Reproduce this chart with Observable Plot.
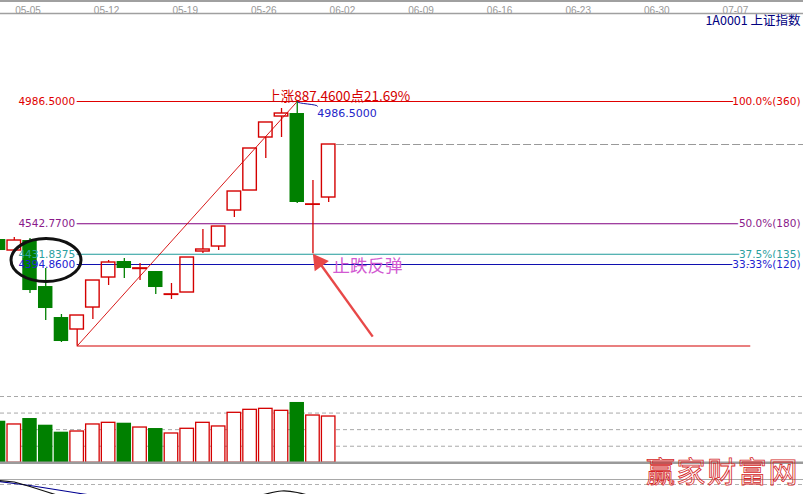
<!DOCTYPE html>
<html><head><meta charset="utf-8">
<script src="https://cdn.jsdelivr.net/npm/d3@7"></script>
<script src="https://cdn.jsdelivr.net/npm/@observablehq/plot@0.6"></script>
<style>
html,body{margin:0;padding:0;background:#fff;}
#chart{position:relative;width:803px;height:494px;overflow:hidden;background:#fff;}
#chart svg{position:absolute;left:0;top:0;background:transparent;overflow:hidden;}
#topline{position:absolute;left:0;top:0;width:803px;height:2px;background:#a0a0a0;}
#wm{position:absolute;left:646px;top:449px;font:29px "Noto Sans CJK SC",sans-serif;letter-spacing:1.6px;color:rgba(255,255,255,0);-webkit-text-stroke:0.8px #d42525;white-space:nowrap;}
</style></head><body>
<div id="chart"><div id="topline"></div></div>
<script>
// ---------- data ----------
const dayIndex = [-2,-1,0,1,2,3,4,5,6,7,8,9,10,11,12,13,14,15,16,17,18,19];
const openP  = [4485.6,4445.6,4481.9,4314.9,4202.4,4158.9,4238.7,4347.6,4405.7,4378.5,4369.4,4284.5,4293.2,4442.0,4460.1,4590.8,4663.4,4855.8,4932.0,4942.9,4611.5,4638.0];
const highP  = [4489.2,4492.8,4489.2,4380.3,4213.3,4209.7,4336.7,4409.3,4416.6,4398.4,4369.4,4325.8,4420.2,4521.9,4532.7,4659.8,4815.9,4910.3,4961.1,4986.5,4699.7,4830.4];
const lowP   = [4442.0,4445.6,4289.5,4191.5,4111.7,4099.04,4195.2,4318.6,4344.0,4336.7,4285.9,4267.8,4293.2,4434.7,4445.6,4565.4,4663.4,4779.6,4855.8,4616.2,4434.0,4619.9];
const closeP = [4445.6,4481.9,4300.4,4235.1,4115.3,4209.7,4336.7,4402.1,4380.3,4380.9,4311.3,4286.4,4420.2,4449.3,4532.7,4659.8,4815.9,4910.3,4942.9,4619.9,4613.0,4830.4];
const volume = [627,578,668,567,462,472,578,603,597,532,517,442,513,603,548,754,799,814,784,910,713,698];

const tickIndex  = [0,5,10,15,20,25,30,35,40,45];
const tickLabels = ["05-05","05-12","05-19","05-26","06-02","06-09","06-16","06-23","06-30","07-07"];

const fibPrices      = [4986.5, 4542.77, 4431.8375, 4394.86];
const fibLeftLabels  = ["4986.5000","4542.7700","4431.8375","4394.8600"];
const fibRightLabels = ["100.0%(360)","50.0%(180)","37.5%(135)","33.33%(120)"];

const swingLowIndex = 3,  swingLow = 4099.04;
const swingHighIndex = 17, swingHigh = 4986.5;
const riseLabel = "上涨887.4600点21.69%";
const peakLabel = "4986.5000";
const titleLabel = "1A0001 上证指数";
const noteLabel = "止跌反弹";
const noteAt = {i: 19.25, price: 4389};
const arrowFrom = {i: 21.8, price: 4133};
const arrowTo = {i: 18.15, price: 4422};
const circleAt = {i: 1.05, price: 4409};
const volumeGrid = [250, 500, 750, 1000];
const indGrid = [0, -5];
const blueInd = [{i:-2,v:-2},{i:-1,v:-4},{i:0,v:-6},{i:1,v:-8.5},{i:2,v:-11},{i:3,v:-13.5},{i:4,v:-16}];
const blackInd1 = [{i:-2,v:-1},{i:-1,v:-2.5},{i:0,v:-7},{i:1,v:-12},{i:2,v:-17}];
const blackInd2 = [{i:14,v:-18},{i:15,v:-14.5},{i:16,v:-11.5},{i:17,v:-13},{i:18,v:-17}];
const watermark = "赢家财富网";

// ---------- styles ----------
const RED = "#d40000", GREEN = "#008000", ARROW = "#e84848";
const fibColors = ["#e00000", "#800080", "#1f9a9a", "#1010b0"];
const fibTextColors = ["#e00000", "#8a1a8a", "#2aa0a0", "#2020d0"];
const NUMFONT = "DejaVu Sans, Verdana, sans-serif";
const CJK = "Noto Sans CJK SC, sans-serif";

const candles = dayIndex.map((d, k) => ({i: d, open: openP[k], high: highP[k], low: lowP[k], close: closeP[k], vol: volume[k]}));
const up = candles.filter(d => d.close >= d.open);
const down = candles.filter(d => d.close < d.open);
const fib = fibPrices.map((p, k) => ({price: p, left: fibLeftLabels[k], right: fibRightLabels[k], k}));
const ticks = tickIndex.map((t, k) => ({i: t, label: tickLabels[k]}));
const last = candles[candles.length - 1];

const xScale = {domain: [0, 45], range: [29.5, 736.9]};
const W = 803, H = 494;
const base = {width: W, height: H, marginTop: 13, marginRight: 0, marginBottom: 0, marginLeft: 0,
  style: {background: "transparent", overflow: "hidden"}};

function ellipseMark(index, scales) {
  const e = document.createElementNS("http://www.w3.org/2000/svg", "ellipse");
  e.setAttribute("cx", scales.x(circleAt.i));
  e.setAttribute("cy", scales.y(circleAt.price));
  e.setAttribute("rx", 35);
  e.setAttribute("ry", 21.5);
  e.setAttribute("fill", "none");
  e.setAttribute("stroke", "#111");
  e.setAttribute("stroke-width", 3);
  return e;
}

// ---------- volume panel ----------
const volPlot = Plot.plot({...base,
  x: {...xScale, axis: null},
  y: {domain: [0, 1000], range: [462.3, 396], axis: null},
  marks: [
    Plot.ruleY(volumeGrid, {stroke: "#a8a8a8", strokeDasharray: "4,3"}),
    Plot.rect(down, {x1: d => d.i - 0.46, x2: d => d.i + 0.46, y1: 0, y2: "vol", fill: GREEN}),
    Plot.rect(up, {x1: d => d.i - 0.43, x2: d => d.i + 0.43, y1: 0, y2: "vol", fill: "white", stroke: RED, strokeWidth: 1.3}),
    Plot.ruleY([0], {stroke: "#9a9a9a", strokeWidth: 2.5})
  ]
});

// ---------- indicator panel ----------
const indPlot = Plot.plot({...base,
  x: {...xScale, axis: null},
  y: {domain: [0, -20], range: [479, 499], axis: null},
  marks: [
    Plot.ruleY([indGrid[0]], {stroke: "#a8a8a8", strokeWidth: 1.2}),
    Plot.ruleY([indGrid[1]], {stroke: "#b0b0b0", strokeDasharray: "4,3"}),
    Plot.line(blueInd, {x: "i", y: "v", stroke: "#000090", strokeWidth: 1.2}),
    Plot.line(blackInd1, {x: "i", y: "v", stroke: "#111", strokeWidth: 1.2}),
    Plot.line(blackInd2, {x: "i", y: "v", stroke: "#111", strokeWidth: 1.2, curve: "natural"})
  ]
});

// ---------- price panel ----------
const pricePlot = Plot.plot({...base,
  x: {...xScale, axis: null},
  y: {domain: [swingLow, swingHigh], range: [345.5, 101], axis: null},
  marks: [
    Plot.frame({anchor: "top", stroke: "#a0a0a0", strokeWidth: 1.5}),
    Plot.text(ticks, {x: "i", text: "label", frameAnchor: "top", dy: -7, dx: -2, fill: "#999", fontSize: 10, fontFamily: "Liberation Sans, Arial, sans-serif"}),
    Plot.text([titleLabel], {frameAnchor: "top-right", dx: -3, dy: 7, fill: "#000080", fontSize: 12.5, fontFamily: CJK, lineAnchor: "middle"}),
    // fibonacci levels
    ...fib.map(f => Plot.ruleY([f.price], {x1: swingLowIndex, x2: 45.85, stroke: fibColors[f.k], strokeWidth: 1.1})),
    Plot.ruleY([swingLow], {x1: swingLowIndex, x2: 45.85, stroke: RED, strokeWidth: 1.1}),
    Plot.ruleY([last.close], {x1: last.i + 0.5, x2: 52, stroke: "#999", strokeDasharray: "8,3", strokeWidth: 1.2}),
    Plot.link([0], {x1: swingLowIndex, y1: swingLow, x2: swingHighIndex, y2: swingHigh, stroke: RED, strokeWidth: 0.9}),
    // candles
    Plot.ruleX(up, {x: "i", y1: "close", y2: "high", stroke: RED, strokeWidth: 1.3}),
    Plot.ruleX(up, {x: "i", y1: "low", y2: "open", stroke: RED, strokeWidth: 1.3}),
    Plot.ruleX(down, {x: "i", y1: "low", y2: "high", stroke: GREEN, strokeWidth: 1.3}),
    Plot.rect(down, {x1: d => d.i - 0.46, x2: d => d.i + 0.46, y1: "open", y2: "close", fill: GREEN}),
    Plot.rect(up, {x1: d => d.i - 0.43, x2: d => d.i + 0.43, y1: "open", y2: "close", fill: "none", stroke: RED, strokeWidth: 1.4}),
    // labels
    ...fib.map(f => Plot.text([f], {x: swingLowIndex, y: "price", text: "left", textAnchor: "end", dx: -2, fill: fibTextColors[f.k], fontSize: 10.5, fontFamily: NUMFONT})),
    ...fib.map(f => Plot.text([f], {frameAnchor: "right", y: "price", text: "right", textAnchor: "end", dx: -3, fill: fibTextColors[f.k], stroke: "white", strokeWidth: 4, paintOrder: "stroke", fontSize: 10.5, fontFamily: NUMFONT})),
    Plot.text([riseLabel], {x: swingHighIndex, y: swingHigh, textAnchor: "start", lineAnchor: "bottom", dx: -30, dy: -1, fill: RED, fontSize: 13.5, fontFamily: CJK}),
    Plot.link([0], {x1: swingHighIndex, y1: swingHigh, x2: swingHighIndex + 1.3, y2: swingHigh - 18, stroke: "#1010a0", strokeWidth: 1, curve: "bump-y"}),
    Plot.text([peakLabel], {x: swingHighIndex, y: swingHigh, textAnchor: "start", dx: 20, dy: 12, fill: "#2424c8", fontSize: 11, fontFamily: NUMFONT}),
    Plot.link([0], {x1: arrowFrom.i, y1: arrowFrom.price, x2: arrowTo.i, y2: arrowTo.price, stroke: ARROW, strokeWidth: 2.4}),
    Plot.dot([arrowTo], {x: "i", y: "price", symbol: "triangle", rotate: -36, r: 6.5, fill: ARROW, dx: 3.5, dy: 5}),
    Plot.text([noteLabel], {x: noteAt.i, y: noteAt.price, textAnchor: "start", fill: "#d25ad2", fontSize: 17.5, fontFamily: CJK}),
    ellipseMark
  ]
});

const chart = document.getElementById("chart");
chart.appendChild(volPlot);
chart.appendChild(indPlot);
chart.appendChild(pricePlot);
const wm = document.createElement("div");
wm.id = "wm";
wm.textContent = watermark;
chart.appendChild(wm);
</script>
</body></html>
